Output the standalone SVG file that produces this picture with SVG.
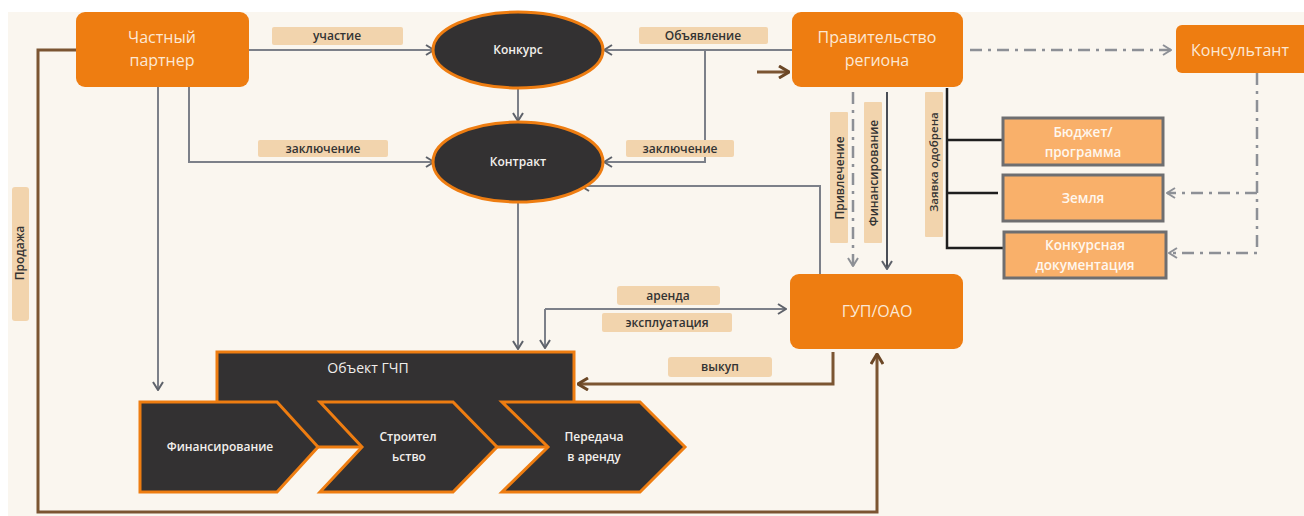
<svg xmlns="http://www.w3.org/2000/svg" width="1304" height="516" viewBox="0 0 1304 516">
<style>
.org{fill:#ee7d11}
.ot{fill:#fce8d4;font-family:"Open Sans","Liberation Sans",sans-serif;font-size:16px;text-anchor:middle}
.lbl{fill:#f2d4ad}
.lt{fill:#333;font-family:"Open Sans","Liberation Sans",sans-serif;font-size:12px;font-weight:600;text-anchor:middle}
.dk{fill:#333132;stroke:#ee7d11;stroke-width:3}
.dt{fill:#f2efec;font-family:"Open Sans","Liberation Sans",sans-serif;font-size:12px;font-weight:600;text-anchor:middle}
.lo{fill:#f9b06a;stroke:#6e6e70;stroke-width:3}
.lot{fill:#fff7ee;font-family:"Open Sans","Liberation Sans",sans-serif;font-size:13.5px;font-weight:600;text-anchor:middle}
.g{fill:none;stroke:#7c8089;stroke-width:2}
.gd{fill:none;stroke:#4a4e56;stroke-width:2}
.dd{fill:none;stroke:#8d9096;stroke-width:2.5;stroke-dasharray:12 6 3 6}
.br{fill:none;stroke:#7b5532;stroke-width:3}
.bk{fill:none;stroke:#1e1e1e;stroke-width:2.5}
</style>
<defs>
<marker id="ag" viewBox="0 0 10 12" refX="9" refY="6" markerWidth="10" markerHeight="12" markerUnits="userSpaceOnUse" orient="auto"><path d="M1,1 L9,6 L1,11" fill="none" stroke="#5e626a" stroke-width="2"/></marker>
<marker id="agl" viewBox="0 0 10 12" refX="9" refY="6" markerWidth="10" markerHeight="12" markerUnits="userSpaceOnUse" orient="auto"><path d="M1,1 L9,6 L1,11" fill="none" stroke="#8d9096" stroke-width="2"/></marker>
<marker id="ab" viewBox="0 0 12 14" refX="11" refY="7" markerWidth="12" markerHeight="14" markerUnits="userSpaceOnUse" orient="auto"><path d="M1,1 L11,7 L1,13" fill="none" stroke="#6b4726" stroke-width="3"/></marker>
</defs>
<rect x="0" y="0" width="1304" height="516" fill="#ffffff"/>
<rect x="8" y="12" width="1296" height="504" fill="#faf6ef"/>

<g id="connectors">
<path class="br" d="M76,50 H38 V512 H877 V354" marker-end="url(#ab)"/>
<path class="br" d="M757,72 H789" marker-end="url(#ab)"/>
<path class="br" d="M833,352 V384 H578" marker-end="url(#ab)"/>
<path class="g" d="M249,50 H434" marker-end="url(#ag)"/>
<path class="g" d="M189,87 V162 H434" marker-end="url(#ag)"/>
<path class="g" d="M158,87 V390" marker-end="url(#ag)"/>
<path class="g" d="M792,50 H604" marker-end="url(#ag)"/>
<path class="g" d="M705,50 V162 H604" marker-end="url(#ag)"/>
<path class="g" d="M518,89 V121" marker-end="url(#ag)"/>
<path class="g" d="M518,203 V349" marker-end="url(#ag)"/>
<path class="g" d="M820,274 V186 H581" marker-end="url(#ag)"/>
<path class="g" d="M545,309 H786" marker-end="url(#ag)"/>
<path class="g" d="M545,309 V348" marker-end="url(#ag)"/>
<path class="dd" d="M853,92 V266" marker-end="url(#agl)"/>
<path class="gd" d="M887,92 V269" marker-end="url(#ag)"/>
<path class="dd" d="M970,50 H1171" marker-end="url(#agl)"/>
<path class="dd" d="M1257,73 V253 H1169" marker-end="url(#agl)"/>
<path class="dd" d="M1257,193 H1167" marker-end="url(#agl)"/>
<path class="bk" d="M947,88 V248 H1003 M947,140 H1002 M947,193 H998"/>
<g id="labels">
<rect class="lbl" x="272" y="27" width="131" height="18" rx="2"/><text class="lt" x="337" y="40">участие</text>
<rect class="lbl" x="258" y="140" width="130" height="17" rx="2"/><text class="lt" x="323" y="153">заключение</text>
<rect class="lbl" x="639" y="27" width="129" height="17" rx="2"/><text class="lt" x="703" y="40">Объявление</text>
<rect class="lbl" x="626" y="140" width="108" height="17" rx="2"/><text class="lt" x="680" y="153">заключение</text>
<rect class="lbl" x="617" y="286" width="103" height="19" rx="3"/><text class="lt" x="668" y="300">аренда</text>
<rect class="lbl" x="602" y="313" width="130" height="19" rx="2"/><text class="lt" x="667" y="327">эксплуатация</text>
<rect class="lbl" x="668" y="357" width="104" height="20" rx="3"/><text class="lt" x="720" y="371">выкуп</text>
<rect class="lbl" x="12" y="187" width="17" height="134" rx="3"/><text class="lt" transform="translate(24,253) rotate(-90)">Продажа</text>
<rect class="lbl" x="830" y="112" width="18" height="131" rx="1"/><text class="lt" transform="translate(844,178) rotate(-90)">Привлечение</text>
<rect class="lbl" x="864" y="102" width="18" height="141" rx="1"/><text class="lt" transform="translate(878,173) rotate(-90)">Финансирование</text>
<rect class="lbl" x="925" y="92" width="18" height="145" rx="1"/><text class="lt" transform="translate(938,162) rotate(-90)" style="font-size:11.5px">Заявка одобрена</text>
</g>
</g>

<g id="n-partner"><rect class="org" x="76" y="12" width="173" height="75" rx="9"/><text class="ot" x="162" y="43">Частный</text><text class="ot" x="162" y="66">партнер</text></g>
<g id="n-gov"><rect class="org" x="792" y="12" width="171" height="75" rx="9"/><text class="ot" x="877" y="43">Правительство</text><text class="ot" x="877" y="66">региона</text></g>
<g id="n-cons"><rect class="org" x="1176" y="25" width="136" height="48" rx="6"/><text class="ot" x="1240" y="56">Консультант</text></g>
<g id="n-gup"><rect class="org" x="790" y="274" width="173" height="75" rx="9"/><text class="ot" x="877" y="317">ГУП/ОАО</text></g>
<g id="n-konkurs"><ellipse class="dk" cx="518" cy="50" rx="85" ry="38"/><text class="dt" x="518" y="54">Конкурс</text></g>
<g id="n-kontrakt"><ellipse class="dk" cx="518" cy="162" rx="85" ry="40"/><text class="dt" x="518" y="166">Контракт</text></g>
<g id="n-budget"><rect class="lo" x="1003" y="118" width="160" height="47"/><text class="lot" x="1083" y="137">Бюджет/</text><text class="lot" x="1083" y="157">программа</text></g>
<g id="n-land"><rect class="lo" x="1003" y="175" width="160" height="46"/><text class="lot" x="1083" y="203">Земля</text></g>
<g id="n-docs"><rect class="lo" x="1004" y="232" width="162" height="46"/><text class="lot" x="1085" y="250">Конкурсная</text><text class="lot" x="1085" y="270">документация</text></g>
<g id="n-object"><rect class="dk" x="217" y="352" width="357" height="95"/><text class="dt" x="368" y="373" style="font-size:14px;font-weight:normal">Объект ГЧП</text></g>
<g id="n-fin"><path class="dk" d="M140,402 H277 L318,447 L277,492 H140 Z"/><text class="dt" x="220" y="451">Финансирование</text></g>
<g id="n-build"><path class="dk" d="M320,402 H453 L497,447 L453,492 H320 L362,447 Z"/><text class="dt" x="408" y="441">Строител</text><text class="dt" x="409" y="461">ьство</text></g>
<g id="n-lease"><path class="dk" d="M502,402 H640 L685,447 L640,492 H502 L548,447 Z"/><text class="dt" x="594" y="441">Передача</text><text class="dt" x="594" y="461">в аренду</text></g>
</svg>
